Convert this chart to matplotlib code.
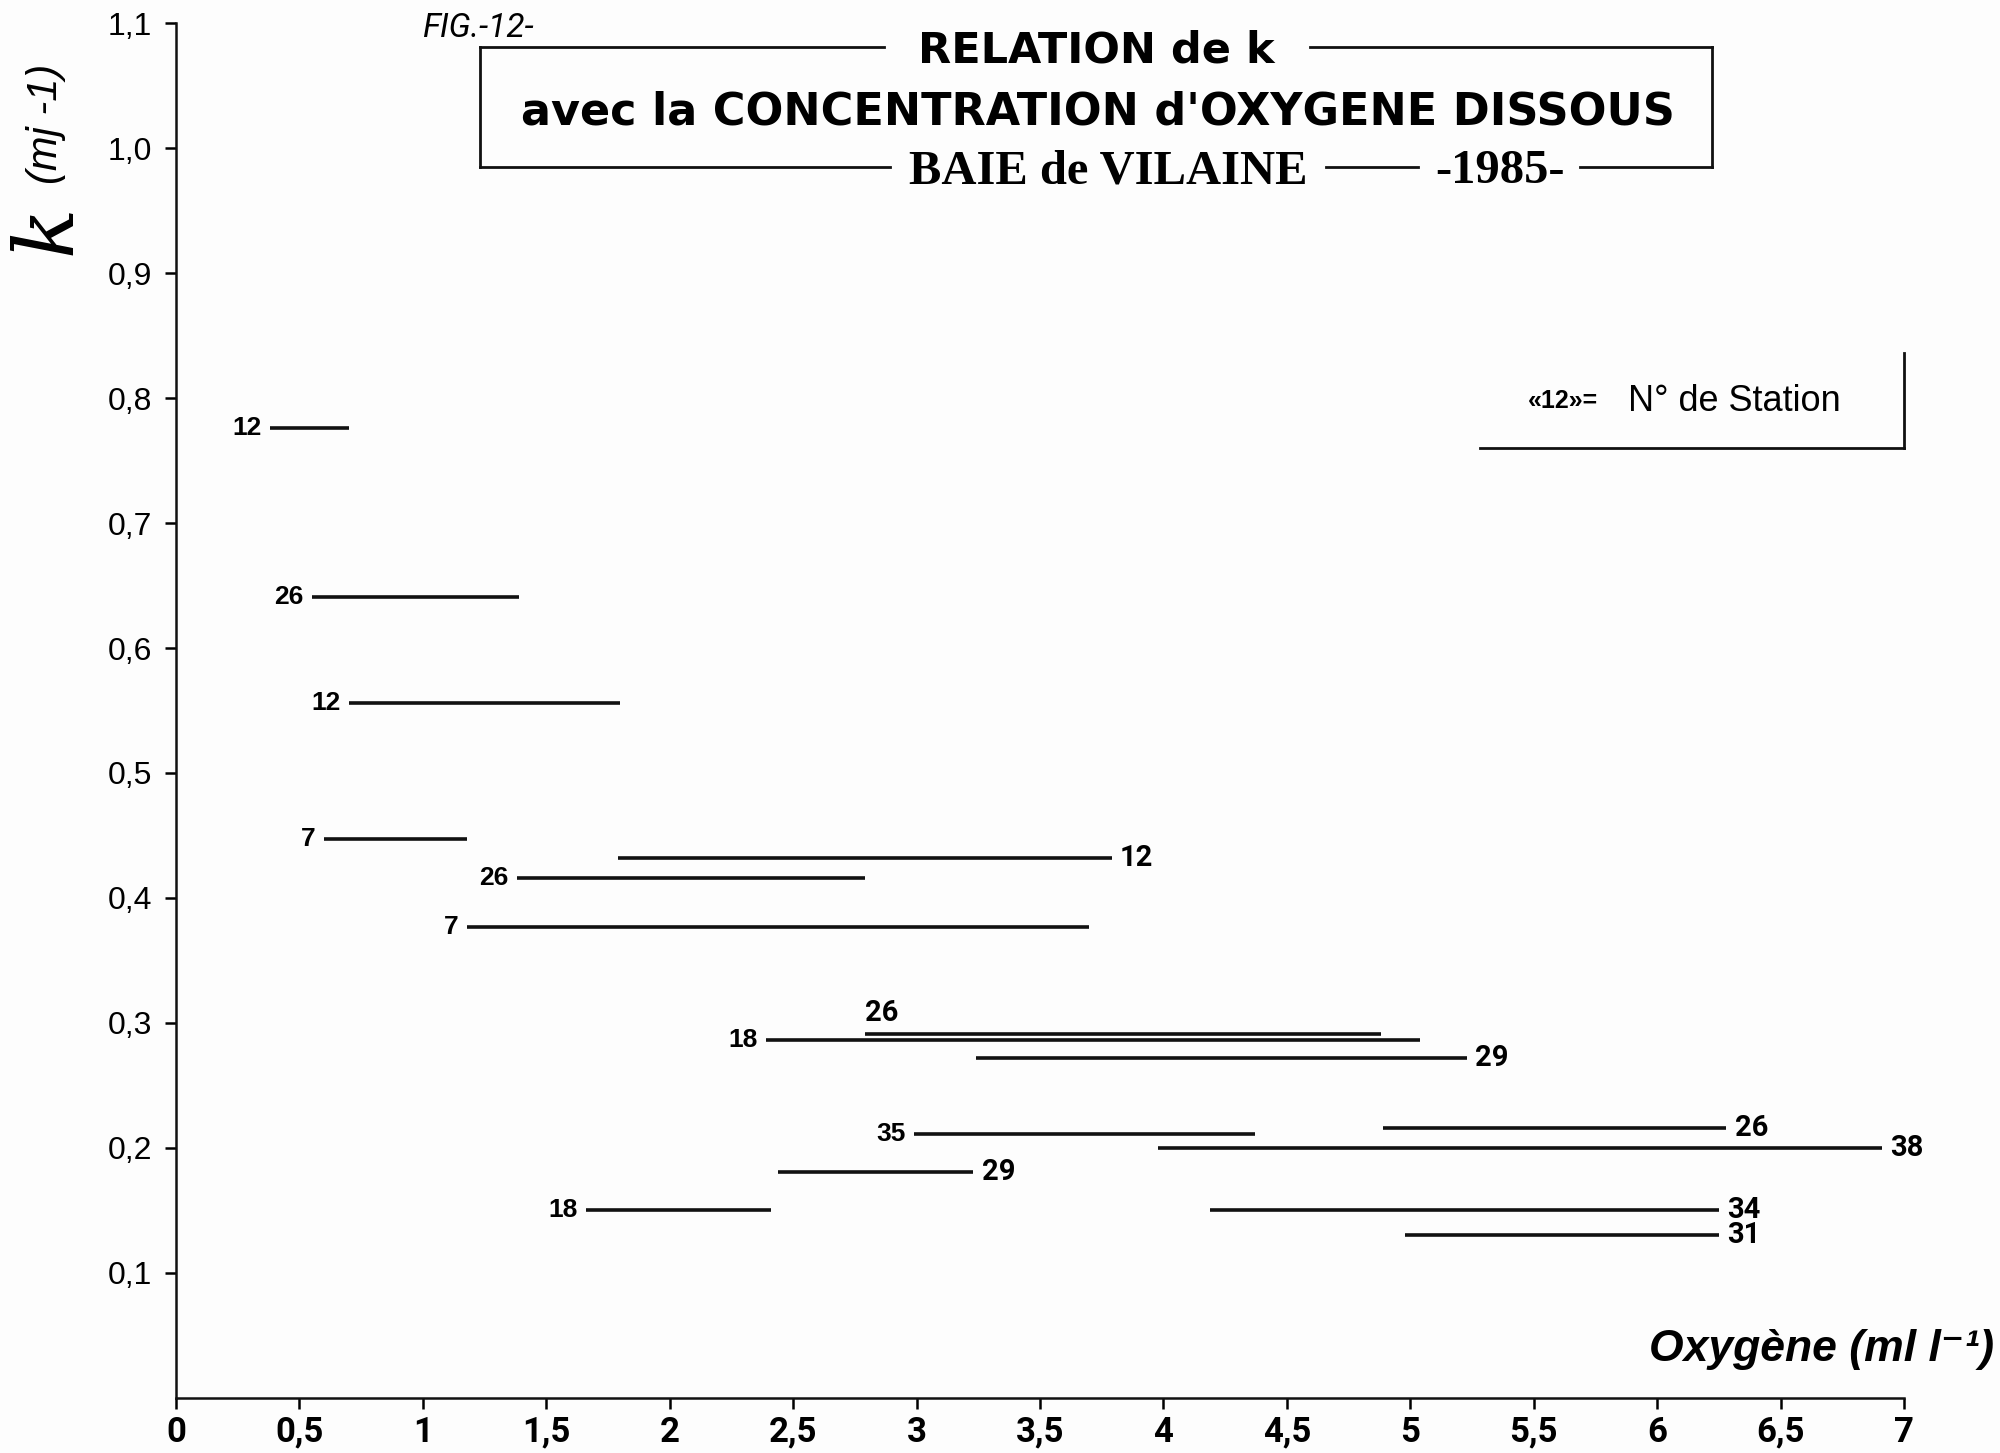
import matplotlib
matplotlib.use("Agg")
import matplotlib.pyplot as plt
from matplotlib.lines import Line2D
from matplotlib.ticker import FixedLocator, FuncFormatter

plt.rcParams['font.family'] = ['Liberation Sans', 'DejaVu Sans']

# station number, oxygen range (ml/l) and k (per day) for each measured interval
stations = ['12', '26', '12', '7', '12', '26', '7', '26', '18', '29',
            '26', '35', '38', '29', '18', '34', '31']
oxy_start = [0.38, 0.55, 0.70, 0.60, 1.79, 1.38, 1.18, 2.79, 2.39, 3.24,
             4.89, 2.99, 3.98, 2.44, 1.66, 4.19, 4.98]
oxy_end = [0.70, 1.39, 1.80, 1.18, 3.79, 2.79, 3.70, 4.88, 5.04, 5.23,
           6.28, 4.37, 6.91, 3.23, 2.41, 6.25, 6.25]
k_values = [0.776, 0.641, 0.556, 0.447, 0.432, 0.416, 0.377, 0.291, 0.286, 0.272,
            0.216, 0.211, 0.200, 0.181, 0.150, 0.150, 0.130]
label_side = ['left', 'left', 'left', 'left', 'right', 'left', 'left', 'above', 'left', 'right',
              'right', 'left', 'right', 'right', 'left', 'right', 'right']

x_ticks = [0, 0.5, 1, 1.5, 2, 2.5, 3, 3.5, 4, 4.5, 5, 5.5, 6, 6.5, 7]
y_ticks = [0.1, 0.2, 0.3, 0.4, 0.5, 0.6, 0.7, 0.8, 0.9, 1.0, 1.1]

narrow = ['DejaVu Sans Condensed', 'Liberation Sans Narrow', 'Roboto', 'Liberation Sans']

fig = plt.figure(figsize=(20, 14.53), dpi=100)
fig.patch.set_facecolor('#fdfdfd')
ax = fig.add_axes([0.088, 0.038, 0.864, 0.946])
ax.set_facecolor('none')

for st, x0, x1, k, side in zip(stations, oxy_start, oxy_end, k_values, label_side):
    ax.plot([x0, x1], [k, k], color='#111111', lw=2.6, solid_capstyle='butt')
    if side == 'left':
        ax.annotate(st, (x0, k), xytext=(-6, 0), textcoords='offset points',
                    ha='right', va='center', fontsize=19, fontweight='bold')
    elif side == 'right':
        ax.annotate(st, (x1, k), xytext=(6, 0), textcoords='offset points',
                    ha='left', va='center', fontsize=21, fontweight='bold', family=narrow)
    else:
        ax.annotate(st, (x0, k), xytext=(0, 5), textcoords='offset points',
                    ha='left', va='bottom', fontsize=21, fontweight='bold', family=narrow)

ax.set_xlim(0, 7)
ax.set_ylim(0, 1.1)
ax.spines['top'].set_visible(False)
ax.spines['right'].set_visible(False)
for sp in ('left', 'bottom'):
    ax.spines[sp].set_linewidth(1.8)
    ax.spines[sp].set_color('#111111')

comma = FuncFormatter(lambda v, p: ('%g' % v).replace('.', ','))
ax.xaxis.set_major_locator(FixedLocator(x_ticks))
ax.xaxis.set_major_formatter(comma)
ax.yaxis.set_major_locator(FixedLocator(y_ticks))
ax.yaxis.set_major_formatter(FuncFormatter(lambda v, p: ('%.1f' % v).replace('.', ',')))
ax.tick_params(axis='x', direction='out', length=8, width=1.8, pad=5, labelsize=25)
ax.tick_params(axis='y', direction='out', length=8, width=1.8, pad=9, labelsize=23)
for lab in ax.get_xticklabels():
    lab.set_family(narrow)
    lab.set_fontweight('bold')

# axis titles
fig.text(0.997, 0.071, 'Oxygène (ml l⁻¹)', ha='right', va='center', fontsize=32,
         fontweight='bold', style='italic')
fig.text(0.024, 0.842, 'k', ha='center', va='center', rotation=90, fontsize=60,
         family=['DejaVu Serif'], style='italic')
fig.text(0.023, 0.915, '(mj -1)', ha='center', va='center', rotation=90, fontsize=30,
         style='italic')

# figure number and framed title
fig.text(0.211, 0.981, 'FIG.-12-', ha='left', va='center', fontsize=24, style='italic',
         family=narrow)

L, R, T, B = 0.240, 0.856, 0.9675, 0.885
lk = dict(color='#111111', lw=2.0, transform=fig.transFigure)
fig.add_artist(Line2D([L, 0.442], [T, T], **lk))
fig.add_artist(Line2D([0.655, R], [T, T], **lk))
fig.add_artist(Line2D([L, L], [T, B], **lk))
fig.add_artist(Line2D([R, R], [T, B], **lk))
fig.add_artist(Line2D([L, 0.445], [B, B], **lk))
fig.add_artist(Line2D([0.663, 0.709], [B, B], **lk))
fig.add_artist(Line2D([0.790, R], [B, B], **lk))

fig.text(0.548, 0.965, 'RELATION de k', ha='center', va='center', fontsize=31,
         fontweight='bold', family=['DejaVu Sans'])
fig.text(0.549, 0.923, "avec la CONCENTRATION d'OXYGENE DISSOUS", ha='center', va='center',
         fontsize=32, fontweight='bold', family=['DejaVu Sans'])
fig.text(0.554, 0.882, 'BAIE de VILAINE', ha='center', va='center', fontsize=35,
         fontweight='bold', family=['Liberation Serif', 'DejaVu Serif'])
fig.text(0.750, 0.882, '-1985-', ha='center', va='center', fontsize=35,
         fontweight='bold', family=['Liberation Serif', 'DejaVu Serif'])

# station key
fig.add_artist(Line2D([0.740, 0.952], [0.692, 0.692], **lk))
fig.add_artist(Line2D([0.952, 0.952], [0.692, 0.757], **lk))
fig.text(0.764, 0.724, '«12»=', ha='left', va='center', fontsize=18, fontweight='bold')
fig.text(0.814, 0.724, 'N° de Station', ha='left', va='center', fontsize=26)

fig.savefig('out.png', dpi=100, facecolor=fig.get_facecolor())
